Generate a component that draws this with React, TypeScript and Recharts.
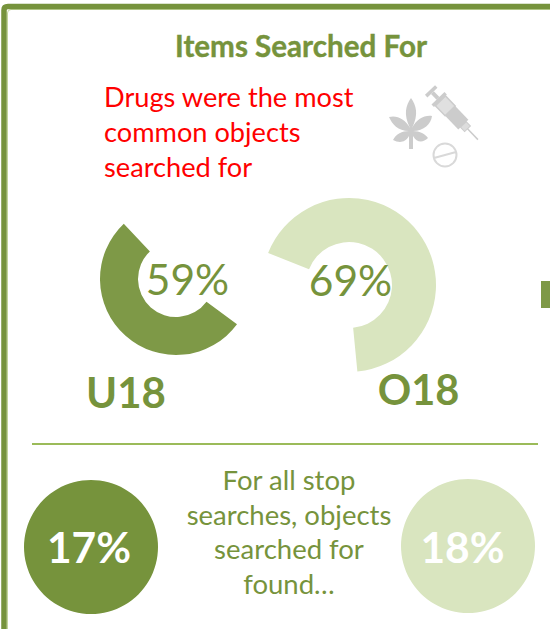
import React from "react";
import { PieChart, Pie, Cell } from "recharts";

const GREEN = "#7e9947";
const DEEP = "#76933c";
const PALE = "#d9e5bf";
const TEXT = "#76933c";
const FONT = "Lato, Carlito, sans-serif";

const u18Values = [59, 41];
const o18Values = [69, 31];
const u18Found = [17];
const o18Found = [18];
const noteLines = ["Drugs were the most", "common objects", "searched for"];
const foundLines = ["For all stop", "searches, objects", "searched for", "found…"];
const toRows = (vs: number[]) => vs.map((value, i) => ({ name: `s${i}`, value }));

export default function App() {
  return (
    <div style={{ position: "absolute", left: 0, top: 0, width: 550, height: 629, overflow: "hidden", background: "#fff" }}>
      <PieChart width={550} height={629} margin={{ top: 0, right: 0, bottom: 0, left: 0 }}>
        <Pie data={toRows(u18Values)} dataKey="value" cx={176} cy={279} innerRadius={38} outerRadius={76} startAngle={133.4} endAngle={455.4} stroke="none" isAnimationActive={false}>
          <Cell fill={GREEN} />
          <Cell fill="none" />
        </Pie>
        <Pie data={toRows(o18Values)} dataKey="value" cx={349} cy={285} innerRadius={43} outerRadius={87} startAngle={158.4} endAngle={-193.6} stroke="none" isAnimationActive={false}>
          <Cell fill={PALE} />
          <Cell fill="none" />
        </Pie>
        <Pie data={toRows(u18Found)} dataKey="value" cx={91} cy={547} innerRadius={0} outerRadius={67} stroke="none" fill={DEEP} isAnimationActive={false} />
        <Pie data={toRows(o18Found)} dataKey="value" cx={468} cy={546} innerRadius={0} outerRadius={67} stroke="none" fill={PALE} isAnimationActive={false} />
      </PieChart>
      <svg width={550} height={629} style={{ position: "absolute", left: 0, top: 0 }} fontFamily={FONT}>
        <path d="M7.500 629V13Q7.500 9.500 11 9.500H550" fill="none" stroke="#c3d69b" strokeWidth={1} />
        <path d="M4 629V10Q4 6.500 8 6.500H550" fill="none" stroke={DEEP} strokeWidth={5.500} />
        <rect x={541} y={281} width={9} height={27} fill={GREEN} />
        <rect x={32} y={443} width={506} height={2} fill="#9bbb59" />
        <text x={301} y={57} textAnchor="middle" fontSize={29.600} fontWeight={700} fill={TEXT} stroke={TEXT} strokeWidth={0.400}>Items Searched For</text>
        {noteLines.map((t, i) => (
          <text key={t} x={104} y={107 + i * 35} fontSize={27.200} fill="#ff0000">{t}</text>
        ))}
        <text x={187.500} y={295} textAnchor="middle" fontSize={42.500} fill={TEXT}>59%</text>
        <text x={350.500} y={296} textAnchor="middle" fontSize={42.500} fill={TEXT}>69%</text>
        <text x={126} y={408} textAnchor="middle" fontSize={42} fontWeight={700} fill={TEXT}>U18</text>
        <text x={418.500} y={405} textAnchor="middle" fontSize={41.500} fontWeight={700} fill={TEXT}>O18</text>
        <text x={89} y={563} textAnchor="middle" fontSize={42.500} fontWeight={700} fill="#fff">17%</text>
        <text x={462.500} y={563} textAnchor="middle" fontSize={42.500} fontWeight={700} fill="#fff">18%</text>
        {foundLines.map((t, i) => (
          <text key={t} x={289} y={490 + i * 34.700} textAnchor="middle" fontSize={27.500} fill={TEXT}>{t}</text>
        ))}
        <path
          d="M411 98C416 105 419 114 412 128C417 119 424 115 432 116C431 124 424 131 413 131C420 131 425 134 428 138C423 143 417 143 413 136L413 149H409V136C405 143 399 143 393 140C396 134 402 131 409 131C398 131 392 124 389 117C397 115 405 119 410 128C403 114 406 105 411 98Z"
          fill="#cccccc"
        />
        <g transform="translate(430 90) rotate(46)" fill="#cccccc">
          <rect x={0} y={-7} width={3.500} height={14} />
          <rect x={3.500} y={-2} width={8} height={4} />
          <rect x={11.500} y={-9} width={3.500} height={18} />
          <rect x={15} y={-7} width={14} height={14} fill="#e0e0e0" stroke="#cccccc" strokeWidth={1.500} />
          <rect x={29} y={-7} width={19} height={14} />
          <path d="M48 -4H54V4H48Z" fill="#dddddd" stroke="#cccccc" />
          <path d="M54 0H69" stroke="#cccccc" strokeWidth={1.500} />
        </g>
        <circle cx={445} cy={155} r={11.500} fill="none" stroke="#d9d9d9" strokeWidth={2} />
        <path d="M434 158L456 152" stroke="#d9d9d9" strokeWidth={2} />
      </svg>
    </div>
  );
}
